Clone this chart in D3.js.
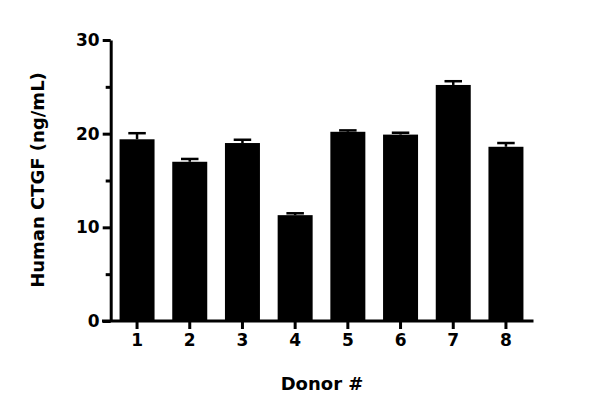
<!DOCTYPE html>
<html><head><meta charset="utf-8">
<script src="https://cdn.jsdelivr.net/npm/d3@7"></script>
<style>body{margin:0;background:#fff}text{font-family:"DejaVu Sans",sans-serif;font-weight:bold}</style>
</head><body><svg id="c" width="600" height="412"></svg>
<script>
const donors = ["1","2","3","4","5","6","7","8"];
const means = [19.4, 17.0, 19.0, 11.3, 20.2, 19.9, 25.2, 18.6];
const errs = [0.65, 0.3, 0.35, 0.2, 0.15, 0.2, 0.4, 0.4];
const yTicks = [0, 10, 20, 30];
const yMinor = [5, 15, 25];

const svg = d3.select("#c");
const x = d3.scaleBand().domain(donors).range([110.7, 532.3]).paddingInner(0.336).paddingOuter(0.168);
const y = d3.scaleLinear().domain([0, 30]).range([321, 40]);

svg.selectAll("rect.bar").data(donors).join("rect")
  .attr("x", d => x(d)).attr("width", x.bandwidth())
  .attr("y", (d,i) => y(means[i])).attr("height", (d,i) => y(0) - y(means[i]))
  .attr("fill", "#000");
const capW = x.bandwidth() / 2;
donors.forEach((d,i) => {
  const cx = x(d) + x.bandwidth()/2;
  svg.append("line").attr("x1", cx).attr("x2", cx).attr("y1", y(means[i])).attr("y2", y(means[i]+errs[i])).attr("stroke","#000").attr("stroke-width",2.5);
  svg.append("line").attr("x1", cx-capW/2).attr("x2", cx+capW/2).attr("y1", y(means[i]+errs[i])).attr("y2", y(means[i]+errs[i])).attr("stroke","#000").attr("stroke-width",2.5);
});

const ya = svg.append("g").attr("transform","translate(110.7,0)")
  .call(d3.axisLeft(y).tickValues(yTicks).tickSize(8).tickSizeOuter(0).tickPadding(3));
const ym = svg.append("g").attr("transform","translate(110.7,0)")
  .call(d3.axisLeft(y).tickValues(yMinor).tickSize(5).tickSizeOuter(0).tickFormat(""));
ym.select(".domain").remove();
const xa = svg.append("g").attr("transform","translate(0,321)")
  .call(d3.axisBottom(x).tickSize(8).tickSizeOuter(0).tickPadding(5));
xa.select(".domain").attr("d","M102,0H533.5");
[ya, ym, xa].forEach(g => {
  g.attr("font-family", null).attr("font-size", null);
  g.selectAll("path,line").attr("stroke","#000").attr("stroke-width",3);
  g.selectAll("text").attr("fill","#000").style("font-size","17px").style("font-family","DejaVu Sans").style("font-weight","bold");
});

svg.append("text").attr("x", 322).attr("y", 390).attr("text-anchor","middle").style("font-size","18px").text("Donor #");
svg.append("text").attr("transform","translate(44,180) rotate(-90)").attr("text-anchor","middle").style("font-size","18px").text("Human CTGF (ng/mL)");
</script></body></html>
